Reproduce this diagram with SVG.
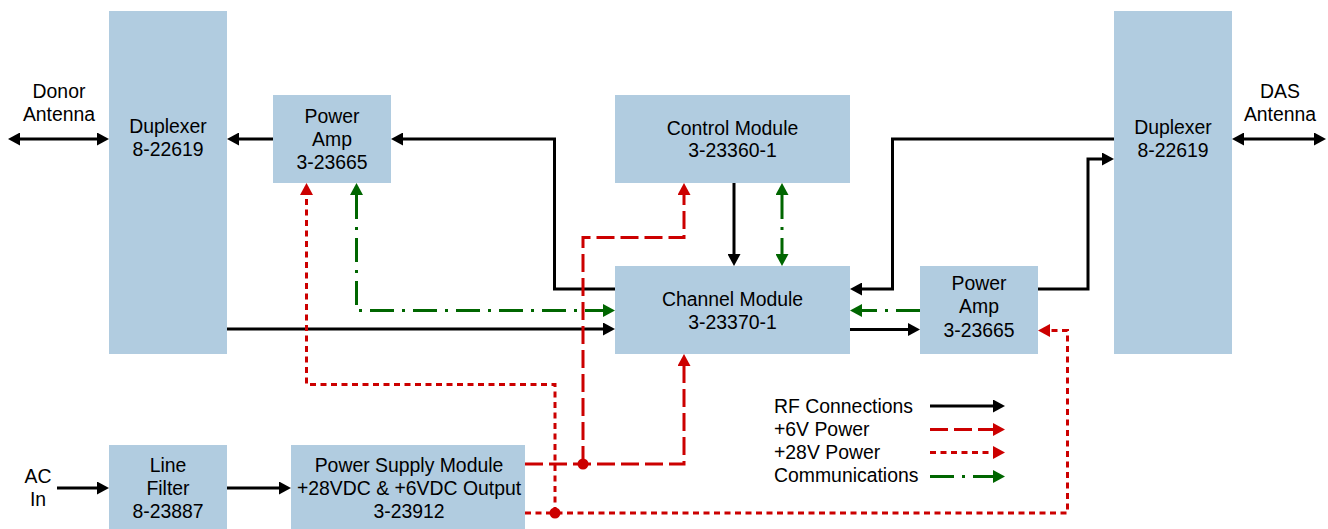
<svg xmlns="http://www.w3.org/2000/svg" width="1328" height="529" viewBox="0 0 1328 529">
<style>
.box{fill:#b1cce0;}
text{font-family:"Liberation Sans",Arial,sans-serif;font-size:19.4px;fill:#000;}
.c{text-anchor:middle;}
.rf{fill:none;stroke:#000;stroke-width:3;marker-end:url(#aK);}
.v6{fill:none;stroke:#cc0000;stroke-width:3;stroke-dasharray:18 6;}
.v28{fill:none;stroke:#cc0000;stroke-width:3;stroke-dasharray:6 4.5;}
.com{fill:none;stroke:#006600;stroke-width:3;stroke-dasharray:24 8 3 8;marker-end:url(#aG);}
.ar6{marker-end:url(#aR);}
</style>
<defs>
<marker id="aK" markerUnits="userSpaceOnUse" markerWidth="12" markerHeight="13" viewBox="0 0 12 13" refX="0" refY="6.5" orient="auto-start-reverse"><path d="M0,0 L12,6.5 L0,13 z" fill="#000"/></marker>
<marker id="aR" markerUnits="userSpaceOnUse" markerWidth="12" markerHeight="13" viewBox="0 0 12 13" refX="0" refY="6.5" orient="auto-start-reverse"><path d="M0,0 L12,6.5 L0,13 z" fill="#cc0000"/></marker>
<marker id="aG" markerUnits="userSpaceOnUse" markerWidth="12" markerHeight="13" viewBox="0 0 12 13" refX="0" refY="6.5" orient="auto-start-reverse"><path d="M0,0 L12,6.5 L0,13 z" fill="#006600"/></marker>
</defs>

<g id="duplexer-left"><rect class="box" x="109" y="11" width="118" height="343"/><text class="c" x="168" y="133">Duplexer</text><text class="c" x="168" y="156">8-22619</text></g>
<g id="power-amp-top"><rect class="box" x="273" y="95" width="118" height="88"/><text class="c" x="332" y="123">Power</text><text class="c" x="332" y="146">Amp</text><text class="c" x="332" y="169">3-23665</text></g>
<g id="control-module"><rect class="box" x="615" y="95" width="235" height="88"/><text class="c" x="732.5" y="134.5">Control Module</text><text class="c" x="732.5" y="157">3-23360-1</text></g>
<g id="channel-module"><rect class="box" x="615" y="266" width="235" height="88"/><text class="c" x="732.5" y="306">Channel Module</text><text class="c" x="732.5" y="329">3-23370-1</text></g>
<g id="power-amp-right"><rect class="box" x="920" y="266" width="118" height="88"/><text class="c" x="979" y="290">Power</text><text class="c" x="979" y="313">Amp</text><text class="c" x="979" y="336.5">3-23665</text></g>
<g id="duplexer-right"><rect class="box" x="1114" y="11" width="118" height="343"/><text class="c" x="1173" y="134">Duplexer</text><text class="c" x="1173" y="157">8-22619</text></g>
<g id="line-filter"><rect class="box" x="109" y="445" width="118" height="84"/><text class="c" x="168" y="472">Line</text><text class="c" x="168" y="494.5">Filter</text><text class="c" x="168" y="518">8-23887</text></g>
<g id="power-supply"><rect class="box" x="291" y="445" width="234" height="84"/><text class="c" x="409" y="472">Power Supply Module</text><text class="c" x="409" y="494.5">+28VDC &amp; +6VDC Output</text><text class="c" x="409" y="518">3-23912</text></g>
<g id="donor-antenna"><text class="c" x="59" y="97.5">Donor</text><text class="c" x="59" y="120.5">Antenna</text></g>
<g id="das-antenna"><text class="c" x="1280" y="97.5">DAS</text><text class="c" x="1280" y="120.5">Antenna</text></g>
<g id="ac-in"><text class="c" x="38" y="483">AC</text><text class="c" x="38" y="505.5">In</text></g>

<g id="connectors">
<path class="rf" d="M20,139 H97" marker-start="url(#aK)"/>
<path class="rf" d="M1244,139 H1314" marker-start="url(#aK)"/>
<path class="rf" d="M273,139 H239"/>
<path class="rf" d="M615,289 H554.5 V139 H403"/>
<path class="rf" d="M227,329 H603"/>
<path class="rf" d="M734,183 V254"/>
<path class="rf" d="M1114,139 H892.5 V289 H862"/>
<path class="rf" d="M1038,289 H1088 V159 H1102"/>
<path class="rf" d="M850,329.5 H908"/>
<path class="rf" d="M57,488 H97"/>
<path class="rf" d="M227,488 H279"/>
<path class="com" d="M782,195 V254" marker-start="url(#aG)"/>
<path class="com" d="M920,310.5 H862"/>
<path class="com" d="M356.5,195 V310.5 H603" marker-start="url(#aG)"/>
<path class="v6 ar6" d="M525,464 H684 V366"/>
<path class="v6 ar6" d="M583,464 V237.5 H684 V195"/>
<path class="v28 ar6" d="M525,513 H1067.5 V330.5 H1050"/>
<path class="v28 ar6" d="M555,513 V384.5 H306.5 V195"/>
<circle cx="583" cy="464" r="5.5" fill="#cc0000"/>
<circle cx="555" cy="513" r="5.5" fill="#cc0000"/>
</g>

<g id="legend">
<text x="774" y="412.5">RF Connections</text>
<text x="774" y="435.5">+6V Power</text>
<text x="774" y="458.5">+28V Power</text>
<text x="774" y="482">Communications</text>
<path class="rf" d="M930,406 H993"/>
<path class="v6 ar6" d="M930,429.5 H993"/>
<path class="v28 ar6" d="M930,452.5 H993"/>
<path class="com" d="M930,476.5 H993"/>
</g>
</svg>
